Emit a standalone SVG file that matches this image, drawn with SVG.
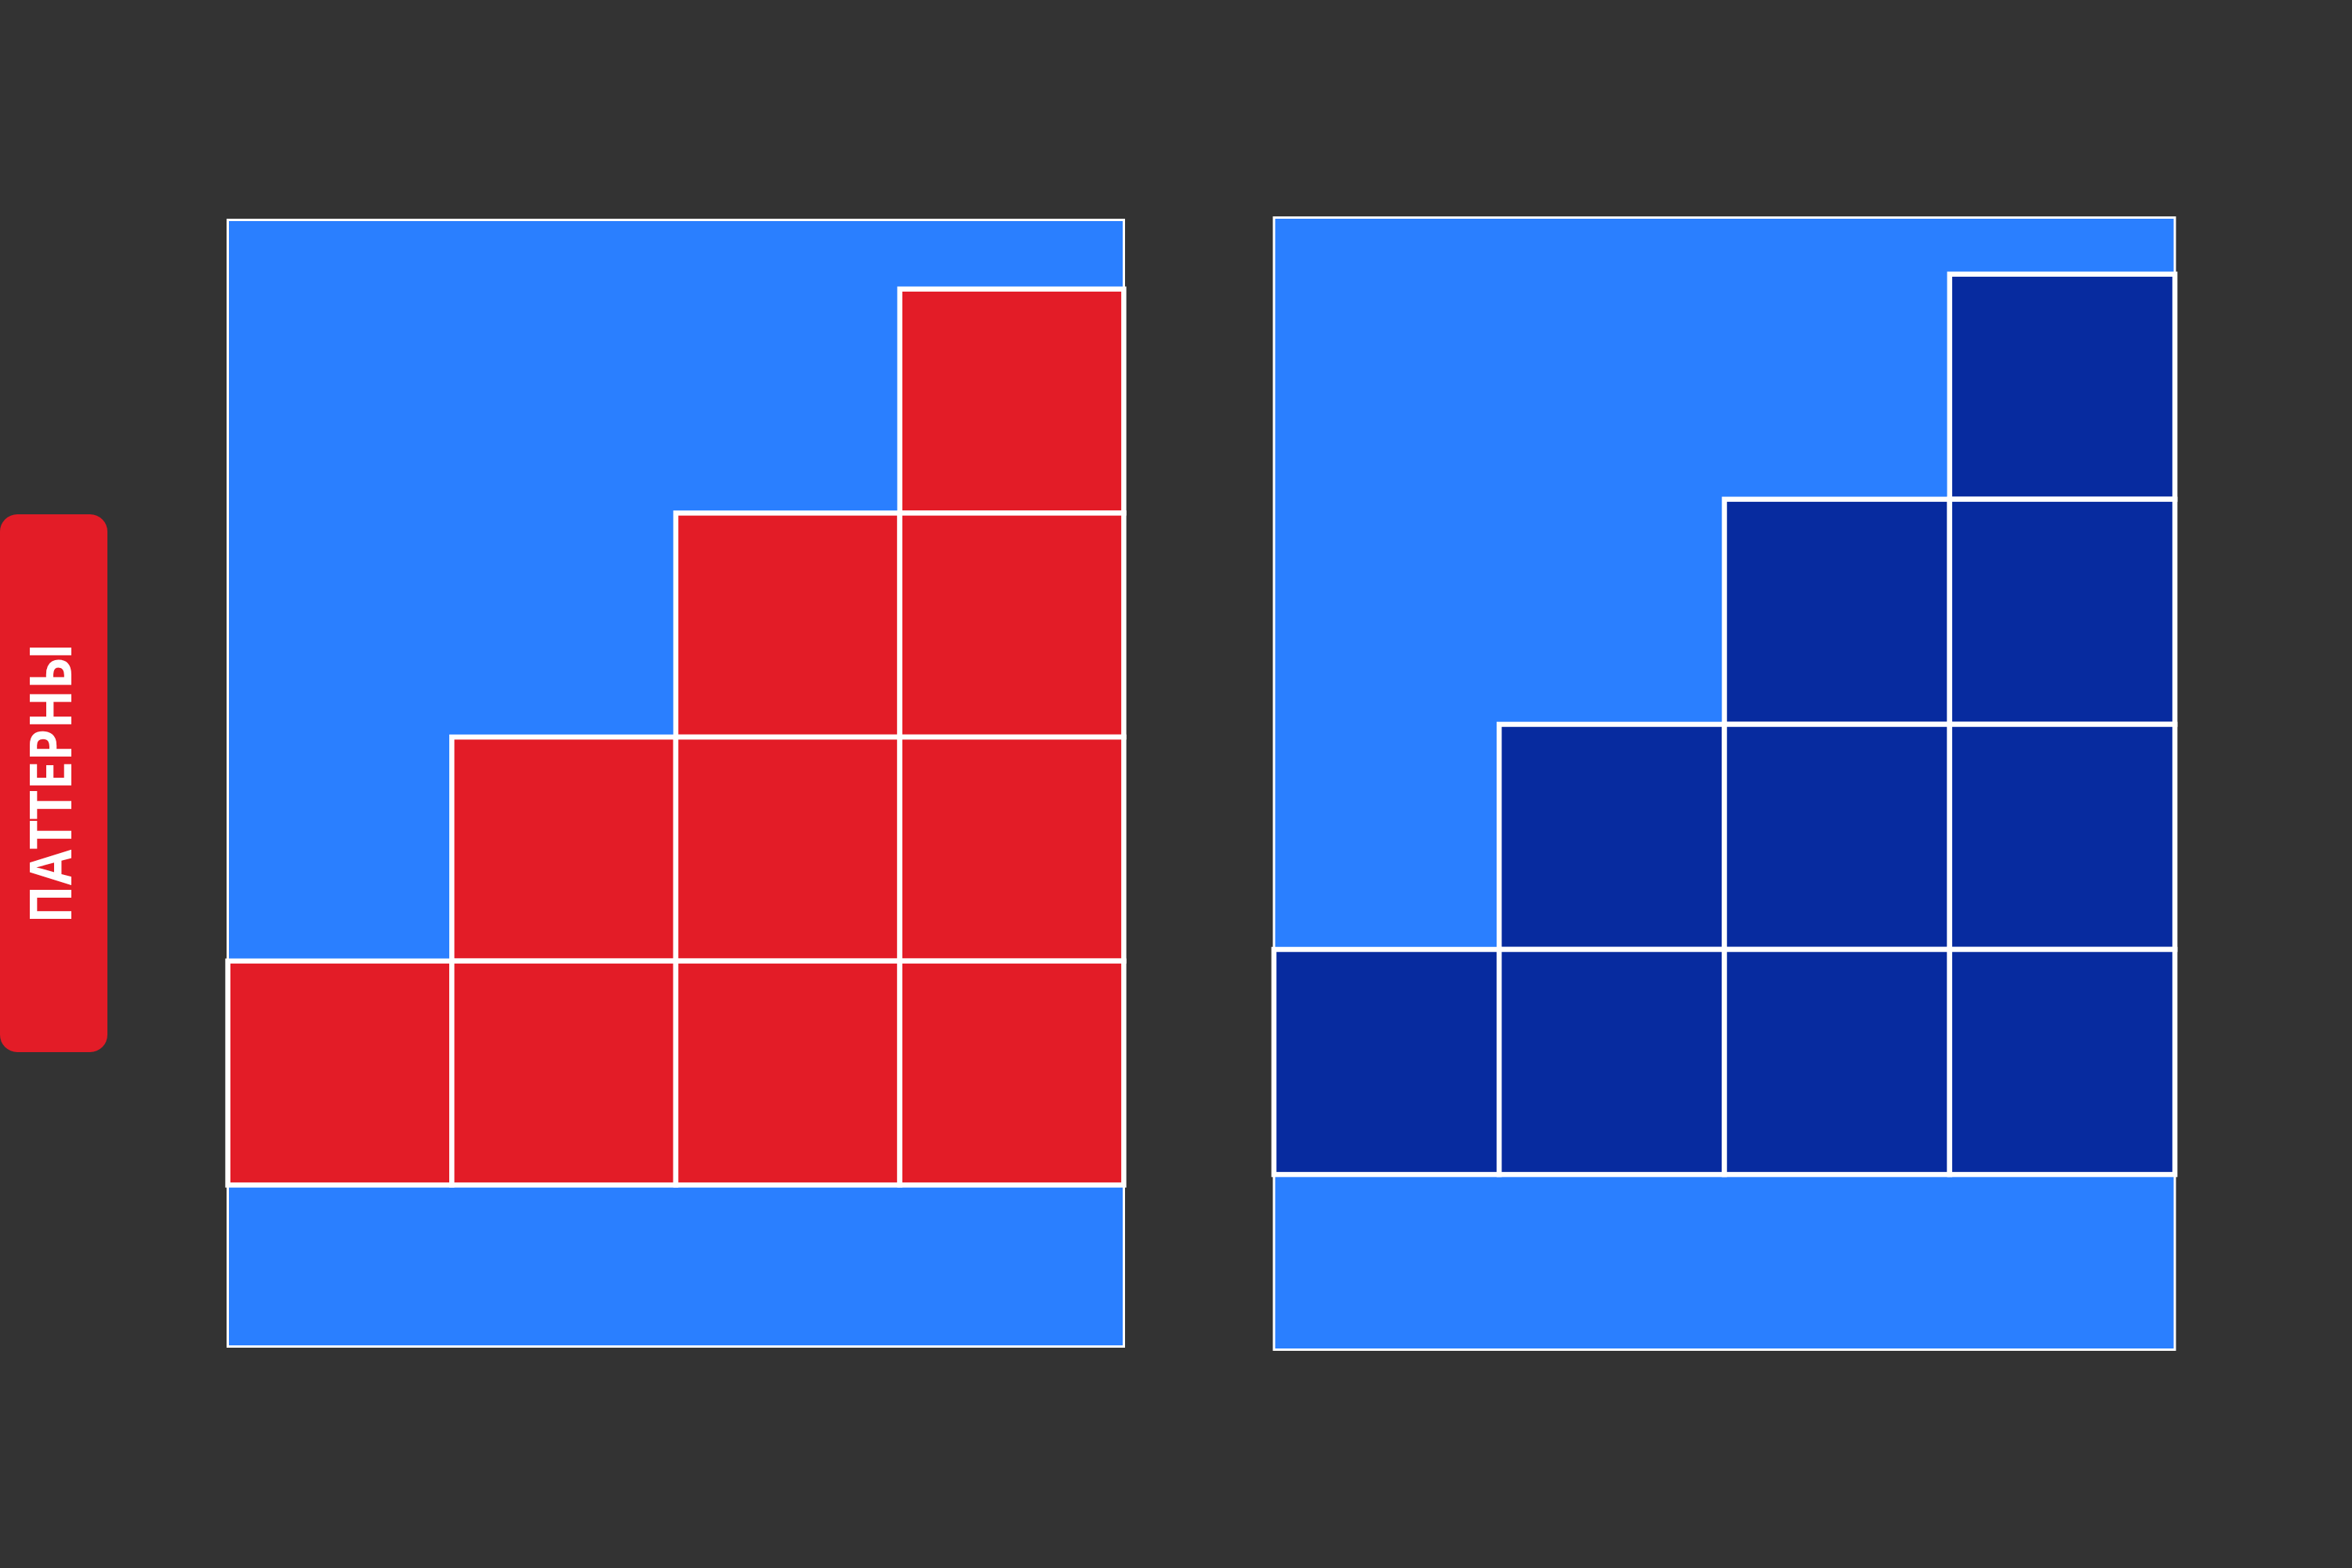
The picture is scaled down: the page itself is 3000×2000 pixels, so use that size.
<svg xmlns="http://www.w3.org/2000/svg" width="3000" height="2000" viewBox="0 0 3000 2000">
<style>
.panel{fill:#2a7fff;stroke:#ffffff;stroke-width:3}
.red{fill:#e31c27;stroke:#ffffff;stroke-width:6.5}
.navy{fill:#072b9f;stroke:#ffffff;stroke-width:6.5}
.lbl{fill:#ffffff;font-family:"Open Sans","DejaVu Sans",sans-serif;font-weight:bold;font-size:74px}
</style>
<rect x="0" y="0" width="3000" height="2000" fill="#333333"/>
<g id="label">
<rect x="0" y="656" width="137" height="686" rx="22" ry="22" fill="#e31c27"/>
<text class="lbl" transform="translate(91,999) rotate(-90)" text-anchor="middle" textLength="358" lengthAdjust="spacingAndGlyphs">ПАТТЕРНЫ</text>
</g>
<g id="left-panel">
<rect class="panel" x="290.5" y="280.5" width="1143" height="1437"/>
<g id="left-steps">
<rect class="red" x="1147.7" y="368.7" width="285.7" height="285.7"/>
<rect class="red" x="862" y="654.4" width="285.7" height="285.7"/>
<rect class="red" x="1147.7" y="654.4" width="285.7" height="285.7"/>
<rect class="red" x="576.3" y="940.1" width="285.7" height="285.7"/>
<rect class="red" x="862" y="940.1" width="285.7" height="285.7"/>
<rect class="red" x="1147.7" y="940.1" width="285.7" height="285.7"/>
<rect class="red" x="290.6" y="1225.8" width="285.7" height="285.7"/>
<rect class="red" x="576.3" y="1225.8" width="285.7" height="285.7"/>
<rect class="red" x="862" y="1225.8" width="285.7" height="285.7"/>
<rect class="red" x="1147.7" y="1225.8" width="285.7" height="285.7"/>
</g>
</g>
<g id="right-panel">
<rect class="panel" x="1625" y="277.5" width="1149" height="1444"/>
<g id="right-steps">
<rect class="navy" x="2486.8" y="349.7" width="287.3" height="287.1"/>
<rect class="navy" x="2199.5" y="636.8" width="287.3" height="287.1"/>
<rect class="navy" x="2486.8" y="636.8" width="287.3" height="287.1"/>
<rect class="navy" x="1912.2" y="923.9" width="287.3" height="287.1"/>
<rect class="navy" x="2199.5" y="923.9" width="287.3" height="287.1"/>
<rect class="navy" x="2486.8" y="923.9" width="287.3" height="287.1"/>
<rect class="navy" x="1624.9" y="1211" width="287.3" height="287.1"/>
<rect class="navy" x="1912.2" y="1211" width="287.3" height="287.1"/>
<rect class="navy" x="2199.5" y="1211" width="287.3" height="287.1"/>
<rect class="navy" x="2486.8" y="1211" width="287.3" height="287.1"/>
</g>
</g>
</svg>
